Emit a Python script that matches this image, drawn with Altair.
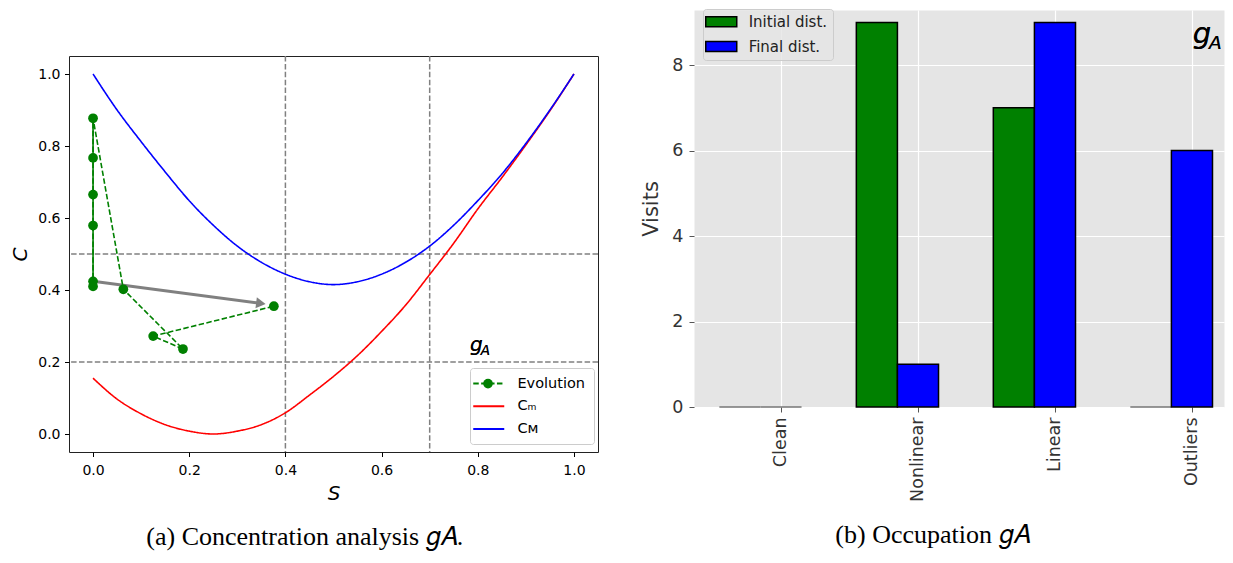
import json
import altair as alt
import pandas as pd

# ---------------- Panel (a): concentration analysis ----------------
S_GRID = [0.00, 0.05, 0.10, 0.15, 0.20, 0.25, 0.30, 0.35, 0.40, 0.45, 0.50,
          0.55, 0.60, 0.65, 0.70, 0.75, 0.80, 0.85, 0.90, 0.95, 1.00]
C_MIN = [0.155, 0.097, 0.056, 0.026, 0.008, 0.000, 0.008, 0.026, 0.059, 0.108, 0.160,
         0.218, 0.285, 0.358, 0.443, 0.530, 0.625, 0.712, 0.803, 0.898, 1.000]
C_MAX = [1.000, 0.900, 0.812, 0.728, 0.648, 0.580, 0.522, 0.477, 0.444, 0.423, 0.415,
         0.423, 0.444, 0.477, 0.522, 0.580, 0.648, 0.722, 0.807, 0.900, 1.000]

EVO_S = [0.000, 0.000, 0.000, 0.000, 0.000, 0.000, 0.063, 0.187, 0.125, 0.376]
EVO_C = [0.410, 0.424, 0.579, 0.665, 0.767, 0.877, 0.402, 0.236, 0.272, 0.355]

H_LINES = [0.2, 0.5]
V_LINES = [0.4, 0.7]
ARROW_TAIL = [0.0, 0.424]
ARROW_HEAD = [0.349, 0.363]

SERIES = ["Evolution", "C_m", "C_M"]

# ---------------- Panel (b): occupation ----------------
CATEGORIES = ["Clean", "Nonlinear", "Linear", "Outliers"]
INITIAL = [0, 9, 7, 0]
FINAL = [0, 1, 9, 6]
BAR_SERIES = ["Initial dist.", "Final dist."]

GREEN = "#008000"
RED = "#ff0000"
BLUE = "#0000ff"
GRAY = "#808080"

# ---------------- build tables ----------------
curves = pd.DataFrame({
    "s": S_GRID + S_GRID,
    "c": C_MIN + C_MAX,
    "series": ["C_m"] * len(S_GRID) + ["C_M"] * len(S_GRID),
})
evo = pd.DataFrame({
    "s": EVO_S,
    "c": EVO_C,
    "step": list(range(len(EVO_S))),
    "series": ["Evolution"] * len(EVO_S),
    "marker": ["Evolution"] * len(EVO_S),
})
hdf = pd.DataFrame({"c": H_LINES})
vdf = pd.DataFrame({"s": V_LINES})
arrow = pd.DataFrame({"s": [ARROW_TAIL[0]], "c": [ARROW_TAIL[1]],
                      "s2": [ARROW_HEAD[0]], "c2": [ARROW_HEAD[1]]})

xs = alt.Scale(domain=[-0.05, 1.05], nice=False, zero=False)
ys = alt.Scale(domain=[-0.05, 1.05], nice=False, zero=False)

common_axis = dict(grid=False, domain=False, tickColor="black", tickSize=4.5, tickWidth=1,
                   labelFontSize=14, labelFont="DejaVu Sans", labelColor="black",
                   labelFlush=False, titleFont="DejaVu Sans", titleFontStyle="italic",
                   titleFontSize=20, titleFontWeight="normal", titleColor="black")
xaxis = alt.Axis(values=[0, 0.2, 0.4, 0.6, 0.8, 1.0], format=".1f", labelPadding=7,
                 titlePadding=6, **common_axis)
yaxis = alt.Axis(values=[0, 0.2, 0.4, 0.6, 0.8, 1.0], format=".1f", labelPadding=4.5,
                 titlePadding=7, **common_axis)


def X(field=None, datum=None):
    if datum is not None:
        return alt.X(datum=datum, type="quantitative", scale=xs, axis=xaxis, title="S")
    return alt.X(field, type="quantitative", scale=xs, axis=xaxis, title="S")


def Y(field=None, datum=None):
    if datum is not None:
        return alt.Y(datum=datum, type="quantitative", scale=ys, axis=yaxis, title="C")
    return alt.Y(field, type="quantitative", scale=ys, axis=yaxis, title="C")


label_expr = ("datum.label == 'C_m' ? 'C\u2098' : "
              "(datum.label == 'C_M' ? 'C\u1d0d' : datum.label)")
leg_a = alt.Legend(title=None, orient="none", legendX=401, legendY=358, padding=8.3,
                   fillColor="rgba(255,255,255,0.8)", strokeColor="#cccccc",
                   cornerRadius=3, symbolType="M-3.1,0H3.1", symbolSize=100,
                   symbolStrokeWidth=2, symbolOffset=3.2, labelOffset=21.4,
                   labelFontSize=14.5, labelFont="DejaVu Sans", labelColor="black",
                   rowPadding=7.7, labelExpr=label_expr, zindex=1)
leg_marker = alt.Legend(title=None, orient="none", legendX=414, legendY=368.6, padding=0,
                        symbolType="circle", symbolSize=95, symbolFillColor=GREEN,
                        symbolStrokeColor=GREEN, symbolStrokeWidth=0, symbolOpacity=1,
                        symbolOffset=0, labelFontSize=1, labelExpr="''", zindex=2)
color_a = alt.Scale(domain=SERIES, range=[GREEN, RED, BLUE])
dash_a = alt.Scale(domain=SERIES, range=[[5.5, 2.4], [1, 0], [1, 0]])

ref_h = alt.Chart(hdf).mark_rule(color=GRAY, strokeDash=[5.5, 2.4], strokeWidth=1.5).encode(
    y=Y("c"))
ref_v = alt.Chart(vdf).mark_rule(color=GRAY, strokeDash=[5.5, 2.4], strokeWidth=1.5).encode(
    x=X("s"))

curve_lines = alt.Chart(curves).mark_line(strokeWidth=1.6, interpolate="monotone").encode(
    x=X("s"), y=Y("c"),
    color=alt.Color("series:N", scale=color_a, legend=leg_a),
    strokeDash=alt.StrokeDash("series:N", scale=dash_a, legend=leg_a),
)

arrow_shaft = alt.Chart(arrow).mark_rule(color=GRAY, strokeWidth=3).encode(
    x=X("s"), y=Y("c"), x2="s2:Q", y2="c2:Q")
arrow_tip = alt.Chart(arrow).mark_point(shape="triangle-right", filled=True, size=121,
                                        angle=7.5, color=GRAY, opacity=1).encode(
    x=X("s2"), y=Y("c2"))

evo_line = alt.Chart(evo).mark_line(strokeWidth=1.6).encode(
    x=X("s"), y=Y("c"), order="step:Q",
    color=alt.Color("series:N", scale=color_a, legend=leg_a),
    strokeDash=alt.StrokeDash("series:N", scale=dash_a, legend=leg_a),
)
evo_axis_line = alt.Chart(evo).transform_filter("datum.s == 0").mark_line(
    color=GREEN, strokeWidth=1.6).encode(x=X("s"), y=Y("c"), order="c:Q")
evo_points = alt.Chart(evo).mark_point(filled=True, size=95, color=GREEN, opacity=1).encode(
    x=X("s"), y=Y("c"),
    shape=alt.Shape("marker:N", scale=alt.Scale(domain=["Evolution"], range=["circle"]),
                    legend=leg_marker),
)

g_text = alt.Chart(hdf).mark_text(text="g", font="DejaVu Sans", fontStyle="italic",
                                  fontSize=20, align="left", baseline="alphabetic",
                                  color="black").encode(x=X(datum=0.784), y=Y(datum=0.231))
a_text = alt.Chart(hdf).mark_text(text="A", font="DejaVu Sans", fontStyle="italic",
                                  fontSize=13.5, align="left", baseline="alphabetic",
                                  color="black").encode(x=X(datum=0.806), y=Y(datum=0.219))

left_layer = alt.layer(
    ref_h, ref_v, curve_lines, arrow_shaft, arrow_tip, evo_line, evo_axis_line,
    evo_points, g_text, a_text,
).properties(
    width=529, height=396,
    view=alt.ViewBackground(fill="white", stroke="#222222", strokeWidth=1),
    title=alt.TitleParams("(a) Concentration analysis \U0001D454\U0001D434.", orient="bottom",
                          font="Liberation Serif", fontSize=26, fontWeight="normal",
                          color="black", offset=20.5, anchor="middle", frame="bounds"),
)

spacer = alt.Chart(hdf).mark_rule(opacity=0).encode(
    x=alt.value(0)
).properties(width=529, height=43,
             view=alt.ViewBackground(fill="transparent", stroke="transparent"))
left = alt.vconcat(spacer, left_layer, spacing=0)

# ---------------- Panel (b) chart ----------------
bar_df = pd.DataFrame({
    "category": CATEGORIES * 2,
    "idx": list(range(len(CATEGORIES))) * 2,
    "dist": [BAR_SERIES[0]] * len(CATEGORIES) + [BAR_SERIES[1]] * len(CATEGORIES),
    "visits": INITIAL + FINAL,
})

bxs = alt.Scale(domain=[-0.635, 3.234], nice=False, zero=False)
bys = alt.Scale(domain=[0, 9.29], nice=False, zero=True)
b_label_expr = json.dumps(CATEGORIES) + "[round(datum.value)]"
bxaxis = alt.Axis(values=[0, 1, 2, 3], labelExpr=b_label_expr, labelAngle=270, grid=True,
                  gridColor="white", gridWidth=1.2, domain=False, tickColor="#555555",
                  tickSize=5, labelFontSize=17.5, labelFont="DejaVu Sans",
                  labelColor="#333333", labelPadding=5, labelFlush=False)
byaxis = alt.Axis(values=[0, 2, 4, 6, 8], grid=True, gridColor="white", gridWidth=1.2,
                  domain=False, tickColor="#555555", tickSize=5, labelFontSize=17.5,
                  labelFont="DejaVu Sans", labelColor="#333333", labelPadding=6,
                  labelFlush=False, titleFont="DejaVu Sans", titleFontSize=21,
                  titleFontWeight="normal", titleColor="#333333", titlePadding=10)

leg_b = alt.Legend(title=None, orient="none", legendX=9, legendY=-1, padding=5.25,
                   fillColor="rgba(229,229,229,0.8)", strokeColor="#cccccc",
                   cornerRadius=3, symbolType="M-3.1,-1H3.1V1H-3.1Z", symbolSize=100,
                   symbolStrokeColor="black", symbolStrokeWidth=1.5, symbolOpacity=1,
                   symbolOffset=5.5, labelOffset=19.9, labelFontSize=15,
                   labelFont="DejaVu Sans", labelColor="#222222", rowPadding=7.8)

bars = alt.Chart(bar_df).transform_calculate(
    x0="datum.idx + (datum.dist == 'Initial dist.' ? -0.45 : -0.15)",
    x1="datum.idx + (datum.dist == 'Initial dist.' ? -0.15 : 0.15)",
).mark_bar(strokeWidth=1.5, opacity=1).encode(
    x=alt.X("x0:Q", scale=bxs, axis=bxaxis, title=None),
    x2="x1:Q",
    y=alt.Y("visits:Q", scale=bys, axis=byaxis, title="Visits", stack=None),
    y2=alt.datum(0),
    color=alt.Color("dist:N", scale=alt.Scale(domain=BAR_SERIES, range=[GREEN, BLUE]),
                    legend=leg_b),
    stroke=alt.condition("datum.visits == 0", alt.value("#777777"), alt.value("black")),
)

bg_text = alt.Chart(hdf).mark_text(text="g", font="DejaVu Sans", fontStyle="italic",
                                   fontSize=29, align="left", baseline="alphabetic",
                                   color="black").encode(
    x=alt.X(datum=3.005, type="quantitative", scale=bxs, axis=bxaxis, title=None),
    y=alt.Y(datum=8.52, type="quantitative", scale=bys, axis=byaxis, title="Visits"))
ba_text = alt.Chart(hdf).mark_text(text="A", font="DejaVu Sans", fontStyle="italic",
                                   fontSize=18.5, align="left", baseline="alphabetic",
                                   color="black").encode(
    x=alt.X(datum=3.125, type="quantitative", scale=bxs, axis=bxaxis, title=None),
    y=alt.Y(datum=8.38, type="quantitative", scale=bys, axis=byaxis, title="Visits"))

right = alt.layer(bars, bg_text, ba_text).properties(
    width=530, height=397,
    view=alt.ViewBackground(fill="#e5e5e5", stroke="transparent"),
    title=alt.TitleParams("(b) Occupation \U0001D454\U0001D434", orient="bottom",
                          font="Liberation Serif", fontSize=26, fontWeight="normal",
                          color="black", offset=21, anchor="middle", frame="bounds"),
)

chart = alt.hconcat(left, right, spacing=40).resolve_scale(
    color="independent", strokeDash="independent", shape="independent"
).resolve_legend(
    color="independent", strokeDash="independent", shape="independent"
).properties(
    padding={"left": 2, "top": 0, "right": 0, "bottom": 0},
    background="white",
)

chart.save("out.html", embed_options={"renderer": "svg", "actions": False})
